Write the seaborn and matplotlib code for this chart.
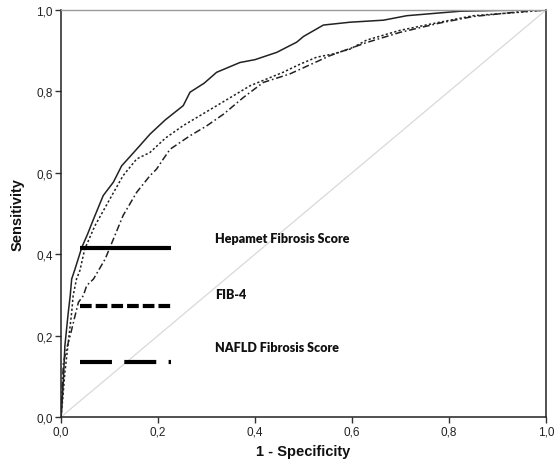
import matplotlib
matplotlib.use("Agg")
import matplotlib.pyplot as plt
import seaborn as sns
import pandas as pd

# ---- data ----
hepamet_x = [0, 0.001, 0.005, 0.008, 0.015, 0.019, 0.022, 0.029, 0.043, 0.055, 0.067, 0.087, 0.108,
             0.125, 0.156, 0.1835, 0.215, 0.252, 0.266, 0.295, 0.321, 0.369, 0.40, 0.445, 0.486, 0.50,
             0.541, 0.596, 0.665, 0.713, 0.823, 0.90, 1.0]
hepamet_y = [0, 0.011, 0.093, 0.175, 0.257, 0.298, 0.339, 0.364, 0.417, 0.45, 0.486, 0.544, 0.577,
             0.617, 0.658, 0.695, 0.73, 0.765, 0.798, 0.82, 0.847, 0.871, 0.878, 0.896, 0.921, 0.935,
             0.963, 0.970, 0.975, 0.986, 0.997, 0.999, 1.0]

fib4_x = [0, 0.004, 0.008, 0.015, 0.022, 0.025, 0.032, 0.039, 0.049, 0.070, 0.101, 0.128, 0.156,
          0.1835, 0.215, 0.252, 0.30, 0.355, 0.39, 0.458, 0.493, 0.527, 0.561, 0.596, 0.63, 0.699,
          0.781, 0.85, 0.94, 1.0]
fib4_y = [0, 0.05, 0.11, 0.183, 0.257, 0.298, 0.339, 0.36, 0.413, 0.47, 0.536, 0.593, 0.634,
          0.650, 0.685, 0.716, 0.75, 0.789, 0.814, 0.847, 0.867, 0.884, 0.892, 0.904, 0.926, 0.95,
          0.97, 0.986, 0.994, 1.0]

nafld_x = [0, 0.002, 0.005, 0.012, 0.019, 0.029, 0.036, 0.046, 0.053, 0.067, 0.091, 0.108, 0.128,
           0.156, 0.1835, 0.197, 0.211, 0.225, 0.266, 0.30, 0.335, 0.376, 0.417, 0.472, 0.555, 0.63,
           0.699, 0.781, 0.85, 0.94, 1.0]
nafld_y = [0, 0.06, 0.134, 0.17, 0.2, 0.249, 0.282, 0.298, 0.323, 0.339, 0.388, 0.437, 0.495,
           0.552, 0.593, 0.609, 0.634, 0.658, 0.691, 0.715, 0.744, 0.785, 0.822, 0.843, 0.888, 0.92,
           0.945, 0.968, 0.984, 0.995, 1.0]

legend_names = ["Hepamet Fibrosis Score", "FIB-4", "NAFLD Fibrosis Score"]
legend_line_y = [0.415, 0.273, 0.136]
legend_text_y = [0.44, 0.302, 0.172]
legend_line_x = [0.039, 0.227]
legend_text_x = 0.3175

tick_values = [0.0, 0.2, 0.4, 0.6, 0.8, 1.0]
tick_labels = ["0,0", "0,2", "0,4", "0,6", "0,8", "1,0"]

# ---- styling ----
sns.set_theme(style="white")
plt.rcParams["font.family"] = ["Liberation Sans", "DejaVu Sans"]
plt.rcParams["lines.scale_dashes"] = False

fig = plt.figure(figsize=(5.56, 4.60), dpi=100)
ax = fig.add_axes([61 / 556, 42 / 460, 485 / 556, 407 / 460])

# diagonal reference
ref = pd.DataFrame({"x": [0, 1], "y": [0, 1]})
sns.lineplot(data=ref, x="x", y="y", ax=ax, color="#d9d9d9", linewidth=0.9, sort=False, estimator=None)

curves = [
    (hepamet_x, hepamet_y, None, "#222222"),
    (fib4_x, fib4_y, (0, (1.6, 1.6)), "#222222"),
    (nafld_x, nafld_y, (0, (5.0, 2.0, 1.2, 2.0)), "#222222"),
]
for xs, ys, ls, c in curves:
    df = pd.DataFrame({"x": xs, "y": ys})
    kw = {} if ls is None else {"linestyle": ls}
    sns.lineplot(data=df, x="x", y="y", ax=ax, color=c, linewidth=1.1, sort=False,
                 estimator=None, **kw)

# legend-like lines and texts inside the plot
leg_styles = ["-", (0, (8.4, 2.9)), (0, (23.0, 8.9))]
for name, ly, ty, ls in zip(legend_names, legend_line_y, legend_text_y, leg_styles):
    ldf = pd.DataFrame({"x": legend_line_x, "y": [ly, ly]})
    sns.lineplot(data=ldf, x="x", y="y", ax=ax, color="black", linewidth=3.0,
                 linestyle=ls, sort=False, estimator=None, solid_capstyle="butt",
                 dash_capstyle="butt")
    ax.text(legend_text_x, ty, name, fontsize=9, fontweight="heavy",
            family=["Lato", "DejaVu Sans"], color="#111111", va="center", ha="left")

ax.set_xlim(0, 1)
ax.set_ylim(0, 1)
ax.set_xticks(tick_values)
ax.set_xticklabels(tick_labels)
ax.set_yticks(tick_values)
ax.set_yticklabels(tick_labels)
ax.tick_params(axis="both", which="major", direction="out", length=4, width=1.0,
               color="#333333", labelsize=8.5, labelcolor="#222222", pad=2,
               bottom=True, left=True)

for side in ["left", "bottom", "right"]:
    ax.spines[side].set_color("#222222")
    ax.spines[side].set_linewidth(1.1)
ax.spines["top"].set_color("#9a9a9a")
ax.spines["top"].set_linewidth(1.0)

ax.set_xlabel("1 - Specificity", fontsize=10.5, fontweight="bold", color="#111111", labelpad=5)
ax.set_ylabel("Sensitivity", fontsize=10.5, fontweight="bold", color="#111111", labelpad=8)

fig.savefig("out.png", dpi=100)
